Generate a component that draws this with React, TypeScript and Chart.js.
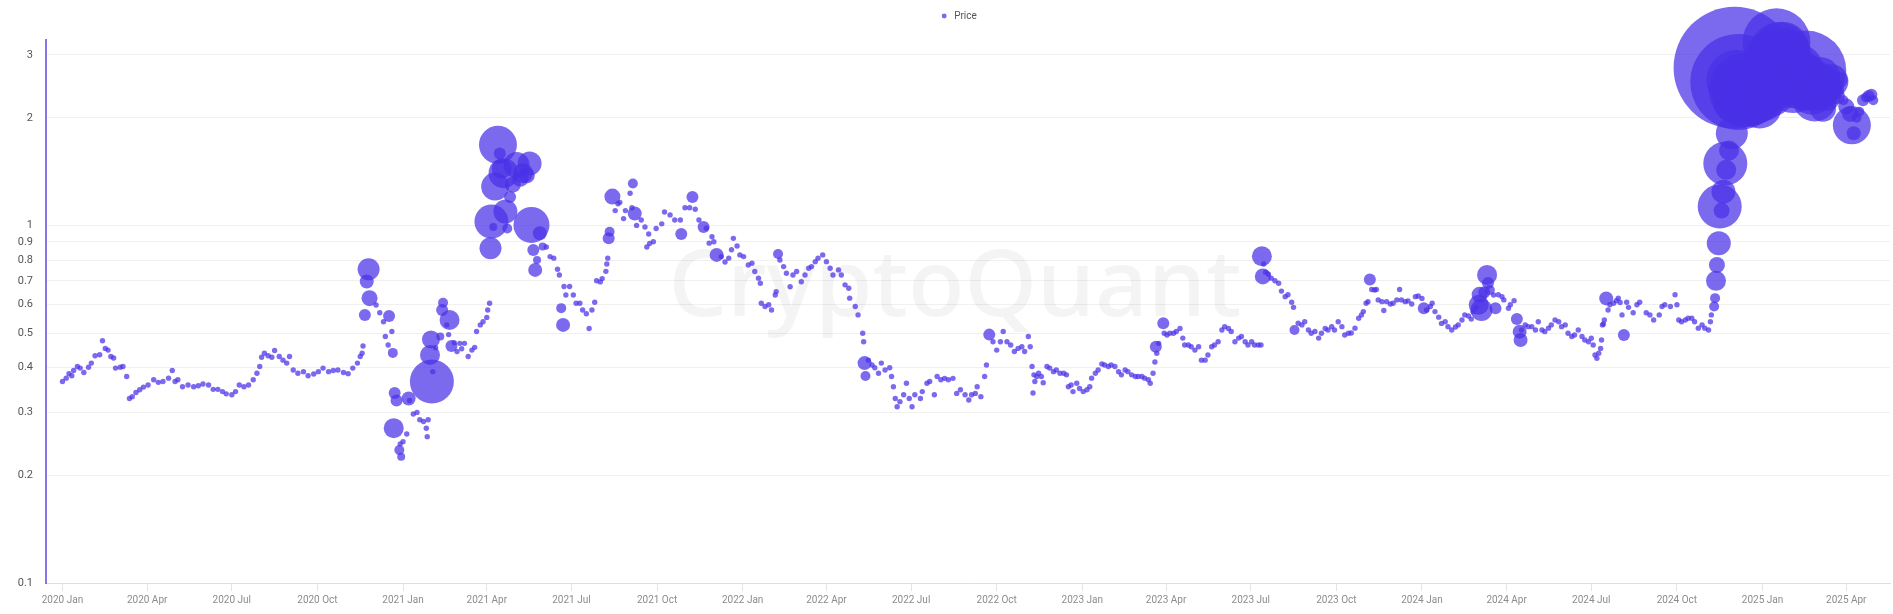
import { useEffect, useRef } from "react";
import { Chart, registerables } from "chart.js";

Chart.register(...registerables);

// x values are days counted from this date
const SERIES_START = "2020-01-01";
const SERIES_LABEL = "Price";

const DAYS_2020 = [
  0, 4, 7, 10, 12, 16, 19, 23, 28, 31,
  35, 40, 43, 46, 49, 52, 55, 57, 62, 65,
  69, 72, 75, 79, 83, 87, 92, 98, 103, 108,
  114, 118, 121, 124, 129, 135, 141, 146, 151, 157,
  162, 167, 172, 176, 182, 186, 190, 195, 200, 205,
  209, 212, 214, 217, 221, 225, 228, 233, 237, 241,
  244, 248, 253, 259, 264, 270, 275, 280, 286, 291,
  296, 302, 307, 312, 317, 320, 322, 323, 325, 327,
  329, 330, 337, 341, 345, 347, 350, 351, 354, 355,
  356, 357, 359, 362, 363, 364,
];
const PRICE_2020 = [
  0.366, 0.374, 0.385, 0.38, 0.393, 0.403, 0.399, 0.388, 0.401, 0.412,
  0.432, 0.435, 0.476, 0.453, 0.448, 0.43, 0.426, 0.399, 0.401, 0.403,
  0.378, 0.328, 0.332, 0.341, 0.347, 0.353, 0.358, 0.37, 0.364, 0.366,
  0.374, 0.393, 0.366, 0.37, 0.354, 0.358, 0.354, 0.356, 0.36, 0.358,
  0.348, 0.348, 0.343, 0.338, 0.336, 0.343, 0.358, 0.354, 0.358, 0.37,
  0.386, 0.403, 0.428, 0.439, 0.432, 0.428, 0.447, 0.43, 0.42, 0.412,
  0.43, 0.394, 0.386, 0.39, 0.38, 0.384, 0.39, 0.399, 0.39, 0.393,
  0.394, 0.388, 0.385, 0.399, 0.412, 0.43, 0.439, 0.46, 0.562, 0.697,
  0.754, 0.626, 0.599, 0.57, 0.538, 0.489, 0.463, 0.558, 0.505, 0.44,
  0.271, 0.34, 0.324, 0.2355, 0.245, 0.2256,
];

const DAYS_2021 = [
  366, 370, 372, 373, 377, 381, 384, 388, 391, 392,
  393, 395, 396, 397, 398, 401, 406, 408, 409, 413,
  415, 416, 418, 421, 424, 427, 429, 432, 436, 440,
  443, 445, 449, 452, 456, 457, 459, 460, 461, 463,
  465, 468, 470, 472, 474, 476, 478, 481, 484, 488,
  492, 495, 499, 502, 504, 506, 508, 510, 513, 516,
  520, 524, 528, 532, 534, 536, 538, 539, 541, 545,
  549, 552, 556, 559, 563, 566, 569, 572, 574, 578,
  580, 584, 585, 586, 587, 588, 591, 594, 597, 599,
  603, 605, 610, 612, 613, 615, 617, 622, 626, 628,
  630, 631, 635, 638, 644, 647, 653, 658, 664, 665,
  669, 674, 677, 680, 684, 689, 692, 695, 698, 700,
  703, 708, 712, 716, 719, 721, 725, 728,
];
const PRICE_2021 = [
  0.2485, 0.261, 0.328, 0.324, 0.297, 0.3, 0.286, 0.283, 0.271, 0.2566,
  0.286, 0.434, 0.48, 0.366, 0.39, 0.455, 0.489, 0.58, 0.608, 0.527,
  0.495, 0.544, 0.46, 0.47, 0.444, 0.468, 0.452, 0.468, 0.43, 0.448,
  0.456, 0.505, 0.527, 0.538, 0.553, 0.58, 0.606, 0.863, 1.025, 0.99,
  1.284, 1.68, 1.59, 1.44, 1.4, 1.093, 0.98, 1.2, 1.3, 1.476,
  1.35, 1.4, 1.38, 1.49, 1.003, 0.854, 0.751, 0.8, 0.951, 0.873,
  0.87, 0.818, 0.81, 0.754, 0.727, 0.587, 0.527, 0.675, 0.639, 0.675,
  0.639, 0.606, 0.606, 0.58, 0.566, 0.515, 0.58, 0.61, 0.7, 0.695,
  0.71, 0.744, 0.78, 0.81, 0.921, 0.96, 1.204, 1.1, 1.15, 1.16,
  1.045, 1.1, 1.23, 1.12, 1.31, 1.08, 1.0, 1.035, 0.99, 0.87,
  0.946, 0.89, 0.9, 0.98, 1.01, 1.09, 1.07, 1.035, 1.035, 0.946,
  1.12, 1.12, 1.2, 1.11, 1.035, 0.99, 0.982, 0.892, 0.93, 0.9,
  0.827, 0.818, 0.79, 0.81, 0.855, 0.92, 0.876, 0.827,
];

const DAYS_2022 = [
  732, 737, 741, 744, 748, 750, 751, 755, 759, 762,
  766, 767, 769, 771, 775, 778, 782, 785, 789, 794,
  798, 802, 805, 809, 812, 817, 821, 825, 828, 834,
  837, 841, 845, 846, 852, 855, 860, 861, 862, 863,
  866, 870, 873, 877, 880, 884, 889, 891, 893, 895,
  897, 900, 904, 907, 910, 913, 916, 922, 924, 929,
  932, 937, 940, 944, 948, 952, 957, 961, 965, 970,
  974, 977, 981, 983, 987, 991, 993, 996, 1000, 1004,
  1008, 1011, 1015, 1019, 1023, 1027, 1031, 1034, 1038, 1040,
  1042, 1043, 1044, 1045, 1047, 1049, 1052, 1054, 1058, 1061,
  1065, 1068, 1072, 1076, 1079, 1081, 1084, 1086, 1090, 1093,
];
const PRICE_2022 = [
  0.818, 0.775, 0.784, 0.743, 0.712, 0.689, 0.606, 0.593, 0.6, 0.58,
  0.639, 0.653, 0.832, 0.8, 0.767, 0.735, 0.674, 0.727, 0.743, 0.696,
  0.727, 0.759, 0.767, 0.792, 0.81, 0.827, 0.792, 0.759, 0.727, 0.751,
  0.727, 0.682, 0.667, 0.626, 0.593, 0.562, 0.4995, 0.473, 0.412, 0.379,
  0.42, 0.407, 0.4, 0.386, 0.412, 0.394, 0.4, 0.378, 0.354, 0.328,
  0.311, 0.3215, 0.336, 0.362, 0.328, 0.311, 0.336, 0.328, 0.343, 0.362,
  0.366, 0.336, 0.378, 0.37, 0.3735, 0.37, 0.3735, 0.339, 0.347, 0.336,
  0.325, 0.336, 0.339, 0.354, 0.332, 0.378, 0.407, 0.495, 0.473, 0.448,
  0.473, 0.505, 0.473, 0.463, 0.444, 0.453, 0.458, 0.444, 0.489, 0.458,
  0.403, 0.34, 0.382, 0.366, 0.378, 0.386, 0.378, 0.363, 0.403, 0.399,
  0.39, 0.394, 0.386, 0.386, 0.382, 0.354, 0.358, 0.343, 0.362, 0.35,
];

const DAYS_2023 = [
  1097, 1101, 1104, 1106, 1110, 1113, 1117, 1120, 1124, 1127,
  1131, 1135, 1138, 1142, 1145, 1149, 1153, 1156, 1160, 1163,
  1167, 1169, 1172, 1174, 1175, 1176, 1178, 1183, 1184, 1187,
  1190, 1194, 1197, 1201, 1204, 1206, 1210, 1213, 1217, 1221,
  1224, 1228, 1231, 1235, 1238, 1242, 1246, 1249, 1253, 1256,
  1260, 1264, 1267, 1271, 1274, 1278, 1281, 1285, 1288, 1289,
  1290, 1291, 1293, 1296, 1299, 1303, 1307, 1310, 1314, 1317,
  1321, 1323, 1324, 1328, 1332, 1335, 1339, 1342, 1346, 1350,
  1353, 1357, 1360, 1364, 1367, 1371, 1375, 1378, 1382, 1385,
  1389, 1393, 1396, 1398, 1401, 1403, 1405, 1407, 1410, 1412,
  1414, 1418, 1420, 1423, 1427, 1430, 1434, 1437, 1439, 1443,
  1446, 1450, 1454, 1457,
];
const PRICE_2023 = [
  0.343, 0.347, 0.354, 0.374, 0.386, 0.394, 0.41, 0.407, 0.403, 0.407,
  0.403, 0.39, 0.382, 0.394, 0.39, 0.382, 0.378, 0.378, 0.378, 0.374,
  0.37, 0.362, 0.386, 0.415, 0.458, 0.439, 0.468, 0.5325, 0.4995, 0.494,
  0.4995, 0.4995, 0.505, 0.515, 0.484, 0.463, 0.463, 0.458, 0.448, 0.458,
  0.42, 0.42, 0.434, 0.458, 0.463, 0.473, 0.51, 0.521, 0.515, 0.505,
  0.473, 0.484, 0.489, 0.473, 0.463, 0.473, 0.463, 0.463, 0.463, 0.82,
  0.72, 0.78, 0.74, 0.73, 0.712, 0.7, 0.689, 0.655, 0.632, 0.64,
  0.61, 0.59, 0.51, 0.5325, 0.527, 0.538, 0.51, 0.4995, 0.505, 0.484,
  0.4995, 0.515, 0.51, 0.521, 0.51, 0.538, 0.521, 0.494, 0.4995, 0.5,
  0.516, 0.55, 0.562, 0.574, 0.606, 0.612, 0.706, 0.662, 0.66, 0.662,
  0.619, 0.612, 0.578, 0.612, 0.603, 0.606, 0.619, 0.662, 0.619, 0.612,
  0.615, 0.603, 0.632, 0.635,
];

const DAYS_2024 = [
  1461, 1463, 1466, 1470, 1472, 1475, 1479, 1482, 1486, 1489,
  1493, 1497, 1500, 1504, 1507, 1511, 1514, 1516, 1519, 1522,
  1523, 1525, 1528, 1531, 1532, 1534, 1538, 1540, 1543, 1547,
  1549, 1554, 1556, 1560, 1563, 1566, 1567, 1568, 1572, 1575,
  1579, 1583, 1586, 1590, 1593, 1597, 1600, 1604, 1608, 1611,
  1615, 1618, 1622, 1625, 1629, 1633, 1636, 1640, 1643, 1645,
  1647, 1649, 1651, 1653, 1654, 1655, 1656, 1657, 1659, 1661,
  1663, 1667, 1670, 1672, 1674, 1676, 1678, 1681, 1683, 1688,
  1692, 1695, 1702, 1706, 1710, 1716, 1719, 1722, 1728, 1733,
  1735, 1737, 1740, 1744, 1747, 1751, 1754, 1758, 1762, 1765,
  1769, 1771, 1772, 1775, 1776, 1777, 1778, 1780, 1781, 1783,
  1785, 1787, 1788, 1791, 1794, 1796, 1797, 1799, 1801, 1804,
  1807, 1809, 1812, 1815, 1818, 1821, 1824,
];
const PRICE_2024 = [
  0.625, 0.5865, 0.58, 0.593, 0.606, 0.574, 0.554, 0.532, 0.538, 0.521,
  0.51, 0.52, 0.527, 0.544, 0.562, 0.558, 0.547, 0.574, 0.59, 0.6,
  0.64, 0.58, 0.65, 0.727, 0.69, 0.66, 0.639, 0.5865, 0.64, 0.632,
  0.619, 0.5865, 0.6, 0.616, 0.547, 0.5045, 0.478, 0.51, 0.527, 0.521,
  0.521, 0.51, 0.538, 0.51, 0.5045, 0.516, 0.527, 0.544, 0.538, 0.521,
  0.527, 0.4995, 0.489, 0.494, 0.51, 0.489, 0.478, 0.473, 0.4835, 0.463,
  0.434, 0.425, 0.439, 0.453, 0.478, 0.527, 0.53, 0.544, 0.625, 0.58,
  0.6, 0.606, 0.616, 0.626, 0.609, 0.562, 0.494, 0.61, 0.59, 0.57,
  0.6, 0.61, 0.57, 0.562, 0.544, 0.562, 0.593, 0.6, 0.593, 0.64,
  0.6, 0.544, 0.538, 0.544, 0.55, 0.55, 0.538, 0.516, 0.527, 0.516,
  0.51, 0.538, 0.562, 0.593, 0.626, 0.7, 0.775, 0.892, 1.13, 1.1,
  1.243, 1.49, 1.43, 1.62, 1.81, 2.2, 2.76, 2.55, 2.52, 2.4,
  2.35, 2.39, 2.3, 2.4, 2.2, 2.25, 2.15,
];

const DAYS_2025 = [
  1827, 1830, 1833, 1836, 1839, 1842, 1845, 1848, 1851, 1854,
  1857, 1860, 1863, 1866, 1869, 1872, 1874, 1877, 1880, 1883,
  1886, 1889, 1892, 1895, 1898, 1901, 1904, 1907, 1910, 1914,
  1917, 1921, 1923, 1925, 1928, 1931, 1935, 1938, 1941, 1944,
  1946,
];
const PRICE_2025 = [
  2.3, 2.45, 2.4, 2.6, 2.9, 3.25, 3.05, 3.1, 3.0, 2.75,
  2.55, 2.5, 2.7, 2.65, 2.6, 2.55, 2.71, 2.45, 2.35, 2.25,
  2.45, 2.6, 2.12, 2.3, 2.45, 2.53, 2.4, 2.3, 2.55, 2.24,
  2.15, 2.05, 1.905, 1.81, 2.0, 2.08, 2.24, 2.28, 2.3, 2.32,
  2.24,
];

// Days whose dot is drawn larger (bubble radius); every other day is a small dot
const BUBBLE_DAYS = [
  325, 327, 329, 330, 351, 355, 356, 357, 359, 362,
  364, 372, 395, 396, 397, 406, 408, 409, 416, 418,
  460, 461, 463, 465, 468, 470, 472, 474, 476, 478,
  481, 484, 488, 492, 495, 499, 502, 504, 506, 508,
  510, 513, 516, 536, 538, 587, 588, 591, 613, 615,
  665, 677, 689, 703, 769, 862, 863, 996, 1175, 1183,
  1289, 1290, 1324, 1405, 1463, 1522, 1523, 1525, 1528, 1531,
  1532, 1534, 1540, 1563, 1566, 1567, 1659, 1678, 1775, 1776,
  1777, 1778, 1780, 1781, 1783, 1785, 1787, 1788, 1791, 1794,
  1796, 1797, 1799, 1801, 1804, 1807, 1809, 1812, 1815, 1818,
  1821, 1824, 1827, 1830, 1833, 1836, 1839, 1842, 1845, 1848,
  1851, 1854, 1857, 1860, 1863, 1866, 1869, 1872, 1874, 1877,
  1880, 1883, 1886, 1889, 1892, 1895, 1898, 1901, 1904, 1907,
  1910, 1914, 1917, 1921, 1923, 1925, 1928, 1931, 1935, 1938,
  1941, 1944, 1946,
];
const BUBBLE_SIZE = [
  6, 7, 11, 8, 6, 5, 10, 6, 6, 5,
  4, 7, 10, 9, 22, 4, 6, 5, 10, 6,
  11, 17, 4, 14, 19, 6, 10, 15, 12, 5,
  6, 8, 13, 8, 10, 8, 12, 18, 6, 7,
  4, 7, 4, 5, 7, 6, 5, 8, 5, 7,
  6, 6, 6, 7, 5, 7, 5, 6, 6, 6,
  10, 8, 5, 6, 6, 10, 8, 11, 6, 10,
  6, 5, 6, 6, 7, 7, 7, 6, 5, 5,
  10, 8, 12, 22, 8, 12, 22, 10, 10, 16,
  20, 61, 30, 48, 30, 28, 37, 25, 24, 22,
  24, 22, 25, 26, 28, 28, 30, 34, 30, 28,
  26, 26, 28, 30, 28, 25, 24, 26, 40, 24,
  22, 22, 24, 20, 13, 15, 14, 17, 10, 8,
  8, 5, 8, 8, 19, 7, 5, 5, 6, 5,
  6, 6, 5,
];
const BASE_SIZE = 2.7;

const X_TICK_MONTHS = [
  "2020-01", "2020-04", "2020-07", "2020-10",
  "2021-01", "2021-04", "2021-07", "2021-10",
  "2022-01", "2022-04", "2022-07", "2022-10",
  "2023-01", "2023-04", "2023-07", "2023-10",
  "2024-01", "2024-04", "2024-07", "2024-10",
  "2025-01", "2025-04",
];
const MONTH_NAMES = ["Jan", "Feb", "Mar", "Apr", "May", "Jun", "Jul", "Aug", "Sep", "Oct", "Nov", "Dec"];

const Y_TICKS = [0.1, 0.2, 0.3, 0.4, 0.5, 0.6, 0.7, 0.8, 0.9, 1, 2, 3];
const Y_TICK_LABELS = ["0.1", "0.2", "0.3", "0.4", "0.5", "0.6", "0.7", "0.8", "0.9", "1", "2", "3"];
const Y_MIN = 0.1;
const Y_MAX = 3.3;
const X_MIN_DAY = -17.7;
const X_MAX_DAY = 1964;

const WATERMARK = "CryptoQuant";

export default function App() {
  const canvasRef = useRef<HTMLCanvasElement | null>(null);

  useEffect(() => {
    const canvas = canvasRef.current;
    if (!canvas) return;

    const startMs = Date.parse(SERIES_START + "T00:00:00Z");
    const dayOf = (ym: string) => (Date.parse(ym + "-01T00:00:00Z") - startMs) / 86400000;
    const xTickDays = X_TICK_MONTHS.map(dayOf);
    const xTickText = X_TICK_MONTHS.map((ym) => {
      const [y, m] = ym.split("-");
      return `${y} ${MONTH_NAMES[Number(m) - 1]}`;
    });

    const days = [...DAYS_2020, ...DAYS_2021, ...DAYS_2022, ...DAYS_2023, ...DAYS_2024, ...DAYS_2025];
    const prices = [...PRICE_2020, ...PRICE_2021, ...PRICE_2022, ...PRICE_2023, ...PRICE_2024, ...PRICE_2025];
    const sizeByDay = new Map<number, number>();
    BUBBLE_DAYS.forEach((d, i) => sizeByDay.set(d, BUBBLE_SIZE[i]));
    const points = days.map((d, i) => ({ x: d, y: prices[i], r: sizeByDay.get(d) ?? BASE_SIZE }));

    const watermarkPlugin = {
      id: "watermark",
      beforeDatasetsDraw(chart: any) {
        const ctx = chart.ctx as CanvasRenderingContext2D;
        ctx.save();
        ctx.font = '500 100px "Noto Sans"';
        const w = ctx.measureText(WATERMARK).width;
        const size = (100 * 573) / w;
        ctx.font = `500 ${size}px "Noto Sans"`;
        ctx.fillStyle = "rgba(30, 30, 50, 0.05)";
        ctx.textAlign = "center";
        ctx.textBaseline = "middle";
        ctx.fillText(WATERMARK, 955, 290);
        ctx.restore();
      },
    };

    const legendPlugin = {
      id: "legendSpace",
      beforeLayout(chart: any) {
        const lg = chart.legend;
        if (lg && !lg.__patched) {
          const fit = lg.fit;
          lg.fit = function () {
            fit.call(this);
            this.height = 40;
          };
          lg.__patched = true;
        }
      },
      afterLayout(chart: any) {
        const lg = chart.legend;
        if (lg) {
          lg.left += 13;
          lg.right += 13;
        }
      },
    };

    Chart.defaults.font.family = "Roboto, 'Noto Sans', sans-serif";

    const chart = new Chart(canvas, {
      type: "bubble",
      data: {
        datasets: [
          {
            label: SERIES_LABEL,
            data: points,
            backgroundColor: "rgba(74, 48, 232, 0.72)",
            borderWidth: 0,
            hoverRadius: 0,
            clip: false as any,
          } as any,
        ],
      },
      options: {
        animation: false,
        responsive: true,
        maintainAspectRatio: false,
        layout: { autoPadding: false, padding: { left: 0, right: 3, top: 0, bottom: 0 } },
        plugins: {
          legend: {
            display: true,
            position: "top",
            align: "center",
            labels: {
              usePointStyle: true,
              pointStyle: "circle",
              boxWidth: 10,
              boxHeight: 3.5,
              padding: 11,
              color: "#555555",
              font: { size: 10 },
            },
          },
          tooltip: { enabled: false },
        },
        scales: {
          x: {
            type: "linear",
            min: X_MIN_DAY,
            max: X_MAX_DAY,
            bounds: "data",
            afterBuildTicks: (scale: any) => {
              scale.ticks = xTickDays.map((v) => ({ value: v }));
            },
            afterFit: (scale: any) => {
              scale.height = 31;
            },
            ticks: {
              autoSkip: false,
              maxRotation: 0,
              padding: 3,
              color: "#8c8c8c",
              font: { size: 10 },
              callback: (_v: any, i: number) => xTickText[i],
            },
            grid: { drawOnChartArea: false, drawTicks: true, tickLength: 8, color: "#e4e4e4" },
            border: { display: true, color: "#dedede", width: 1 },
          },
          y: {
            type: "logarithmic",
            min: Y_MIN,
            max: Y_MAX,
            bounds: "data",
            afterBuildTicks: (scale: any) => {
              scale.ticks = Y_TICKS.map((v) => ({ value: v }));
            },
            afterFit: (scale: any) => {
              scale.width = 46;
            },
            ticks: {
              autoSkip: false,
              padding: 13,
              color: "#555555",
              font: { size: 11 },
              callback: (_v: any, i: number) => Y_TICK_LABELS[i],
            },
            grid: { drawTicks: false, color: "#f0f0f0" },
            border: { display: true, color: "rgba(112, 94, 232, 0.85)", width: 2 },
          },
        },
      } as any,
      plugins: [watermarkPlugin, legendPlugin],
    });

    return () => {
      chart.destroy();
    };
  }, []);

  return (
    <div style={{ position: "absolute", left: 0, top: 0, width: "1893px", height: "614px" }}>
      <canvas ref={canvasRef} />
    </div>
  );
}
